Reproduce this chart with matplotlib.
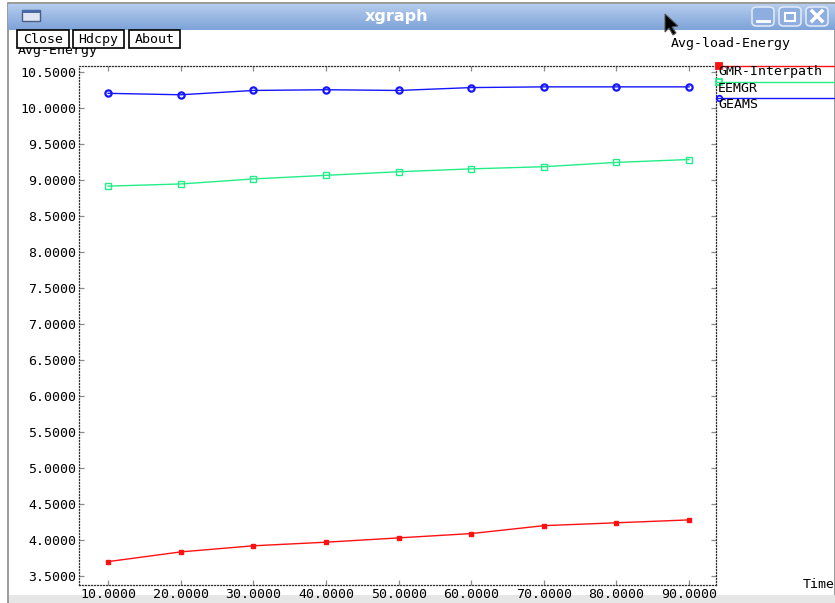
import numpy as np
import matplotlib
matplotlib.use("Agg")
import matplotlib.pyplot as plt
from matplotlib.patches import Rectangle, FancyBboxPatch, Polygon
from matplotlib.lines import Line2D

# data series (time vs average energy)
time = [10, 20, 30, 40, 50, 60, 70, 80, 90]
gmr_interpath = [3.70, 3.835, 3.92, 3.97, 4.03, 4.09, 4.20, 4.24, 4.28]
eemgr = [8.92, 8.95, 9.02, 9.07, 9.12, 9.16, 9.19, 9.25, 9.29]
geams = [10.21, 10.19, 10.25, 10.26, 10.25, 10.29, 10.30, 10.30, 10.30]

series_names = ["GMR-Interpath", "EEMGR", "GEAMS"]
series_colors = ["#ff1010", "#22ee88", "#1515ff"]
series_markers = ["s", "s", "o"]

x_ticks = [10, 20, 30, 40, 50, 60, 70, 80, 90]
y_ticks = [3.5, 4.0, 4.5, 5.0, 5.5, 6.0, 6.5, 7.0, 7.5, 8.0, 8.5, 9.0, 9.5, 10.0, 10.5]

W, H = 835, 603
mono = "DejaVu Sans Mono"

fig = plt.figure(figsize=(W / 100, H / 100), dpi=100)
fig.patch.set_facecolor("white")


def fx(px):
    return px / W


def fy(py):
    return 1 - py / H


# window frame
fig.patches.append(Rectangle((fx(8), fy(603)), fx(835 - 8), 600 / H,
                             transform=fig.transFigure, facecolor="white",
                             edgecolor="#8a8a8a", linewidth=1.2, zorder=-5))
fig.patches.append(Rectangle((fx(9), fy(603)), fx(826), 8 / H,
                             transform=fig.transFigure, facecolor="#e6e6e6",
                             edgecolor="none", zorder=-4))

# title bar gradient
bar = fig.add_axes([fx(8), fy(30), fx(827), 26 / H])
bar.set_zorder(1)
grad = np.linspace(0, 1, 50).reshape(-1, 1)
top = np.array([0.71, 0.80, 0.93])
bot = np.array([0.49, 0.64, 0.85])
img = top[None, None, :] * (1 - grad[:, :, None]) + bot[None, None, :] * grad[:, :, None]
bar.imshow(img, aspect="auto", extent=[0, 1, 0, 1])
bar.set_axis_off()
fig.text(fx(397), fy(17), "xgraph", color="white", fontsize=11.5,
         fontweight="bold", ha="center", va="center", family="DejaVu Sans", zorder=4)

# window icon
fig.patches.append(Rectangle((fx(22), fy(21)), fx(18), 11 / H, transform=fig.transFigure,
                             facecolor="#dfe6f2", edgecolor="#4a5f85", linewidth=1, zorder=3))
fig.patches.append(Rectangle((fx(22), fy(13)), fx(18), 3 / H, transform=fig.transFigure,
                             facecolor="#4a6aa5", edgecolor="none", zorder=4))

# window buttons
for bx in (752, 779, 806):
    fig.patches.append(FancyBboxPatch((fx(bx), fy(26)), fx(22), 19 / H,
                                      boxstyle="round,pad=0,rounding_size=0.006",
                                      transform=fig.transFigure, facecolor="#8eaee0",
                                      edgecolor="#dde8f8", linewidth=1.2, zorder=3))
fig.lines.append(Line2D([fx(757), fx(769)], [fy(21), fy(21)], transform=fig.transFigure,
                        color="white", linewidth=2, zorder=4))
fig.patches.append(Rectangle((fx(785), fy(21)), fx(10), 8 / H, transform=fig.transFigure,
                             facecolor="none", edgecolor="white", linewidth=1.5, zorder=4))
fig.lines.append(Line2D([fx(812), fx(822)], [fy(11), fy(21)], transform=fig.transFigure,
                        color="white", linewidth=2.5, zorder=4))
fig.lines.append(Line2D([fx(812), fx(822)], [fy(21), fy(11)], transform=fig.transFigure,
                        color="white", linewidth=2.5, zorder=4))

# mouse pointer
arrow = [(665, 14), (665, 32), (669, 28), (673, 35), (676, 33), (672, 27), (678, 26)]
fig.patches.append(Polygon([(fx(a), fy(b)) for a, b in arrow], closed=True,
                           transform=fig.transFigure, facecolor="black",
                           edgecolor="#555555", linewidth=0.8, zorder=6))

# y label, partly hidden under the buttons
fig.text(fx(18), fy(54), "Avg-Energy", family=mono, fontsize=9.5, ha="left",
         va="baseline", zorder=2)

# command buttons
for label, x0, x1 in [("Close", 17, 69), ("Hdcpy", 73, 124), ("About", 129, 180)]:
    fig.patches.append(Rectangle((fx(x0), fy(48)), fx(x1 - x0), 18 / H,
                                 transform=fig.transFigure, facecolor="white",
                                 edgecolor="black", linewidth=1.2, zorder=3))
    fig.text(fx((x0 + x1) / 2), fy(39.5), label, family=mono, fontsize=9.5,
             ha="center", va="center", zorder=4)

fig.text(fx(671), fy(43), "Avg-load-Energy", family=mono, fontsize=9.5,
         ha="left", va="center")
fig.text(fx(803), fy(585), "Time", family=mono, fontsize=9.5, ha="left", va="center")

# plot area
ax = fig.add_axes([fx(79), fy(585), fx(716 - 79), (585 - 66) / H])
ax.set_zorder(1)
ax.set_facecolor("white")
ax.set_xlim(6.0, 93.7)
ax.set_ylim(3.375, 10.59)

all_series = [gmr_interpath, eemgr, geams]
for vals, color, mk in zip(all_series, series_colors, series_markers):
    if mk == "o":
        ax.plot(time, vals, color=color, linewidth=1, marker="o", markersize=4.5,
                markerfacecolor="none", markeredgecolor=color, markeredgewidth=1.6)
    elif color == series_colors[1]:
        ax.plot(time, vals, color=color, linewidth=1, marker="s", markersize=5,
                markerfacecolor="none", markeredgecolor=color, markeredgewidth=1)
    else:
        ax.plot(time, vals, color=color, linewidth=1, marker="s", markersize=3.2,
                markerfacecolor=color, markeredgecolor=color)

ax.set_xticks(x_ticks)
ax.set_xticklabels(["%.4f" % v for v in x_ticks], family=mono, fontsize=9.5)
ax.set_yticks(y_ticks)
ax.set_yticklabels(["%.4f" % v for v in y_ticks], family=mono, fontsize=9.5)
ax.tick_params(direction="in", length=3.5, width=0.9, top=True, right=True,
               pad=2, colors="#8c8c8c", labelcolor="black")
for sp in ax.spines.values():
    sp.set_linestyle((0, (0.8, 1.6)))
    sp.set_linewidth(0.9)
    sp.set_color("#333333")

# legend at the right edge, lines running out past the frame
leg_y = [66, 82, 98]
for name, color, mk, ly in zip(series_names, series_colors, series_markers, leg_y):
    fig.lines.append(Line2D([fx(717), fx(835)], [fy(ly), fy(ly)], transform=fig.transFigure,
                            color=color, linewidth=1, zorder=5))
    fc = color if name == "GMR-Interpath" else "none"
    fig.lines.append(Line2D([fx(719)], [fy(ly)], transform=fig.transFigure, color=color,
                            marker=mk, markersize=4, markerfacecolor=fc,
                            markeredgecolor=color, markeredgewidth=1.3, zorder=6))
    fig.text(fx(718), fy(ly + 6), name, family=mono, fontsize=9.5, ha="left",
             va="center", zorder=6)

fig.savefig("out.png", dpi=100)
